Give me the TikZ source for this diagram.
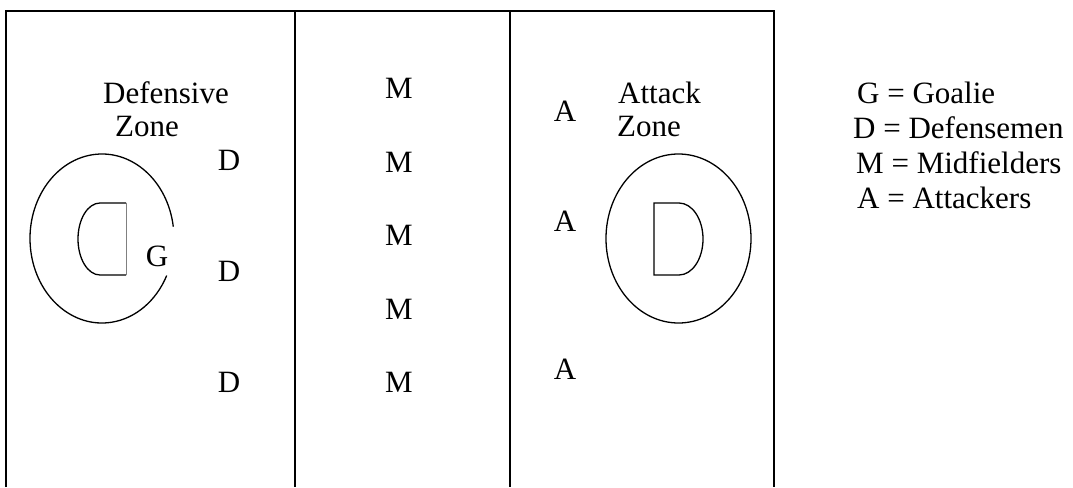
\documentclass[tikz,border=0pt]{standalone}
\usepackage{fontspec}
\setmainfont{Liberation Serif}
\usetikzlibrary{positioning}
\tikzstyle{player}    = [inner sep=0pt, anchor=base, font=\fontsize{31}{34}\selectfont]
\tikzstyle{zonetext}  = [inner sep=0pt, anchor=base west, font=\fontsize{31}{34}\selectfont]
\tikzstyle{fieldline} = [line width=1.8pt]
\tikzstyle{crease}    = [line width=1.3pt]

\begin{document}
\begin{tikzpicture}[x=1pt, y=-1pt]
  \useasboundingbox (0,0) rectangle (1073,487);

  %% Field outline and zone lines
  \coordinate (fbl) at (6,487);
  \coordinate (ftl) at (6,11);
  \coordinate (ftr) at (774,11);
  \coordinate (fbr) at (774,487);
  \coordinate (d1t) at (295,11);
  \coordinate (d1b) at (295,487);
  \coordinate (d2t) at (510,11);
  \coordinate (d2b) at (510,487);
  \draw[fieldline] (fbl) -- (ftl) -- (ftr) -- (fbr);
  \draw[fieldline] (d1t) -- (d1b);
  \draw[fieldline] (d2t) -- (d2b);

  %% Defensive crease (open on the right)
  \coordinate (lcrease) at (102,238.5);
  \draw[crease] (lcrease) ++(8:72pt and 84.5pt)
        arc[start angle=8, end angle=334, x radius=72pt, y radius=84.5pt];
  \coordinate (lgoal) at (100,203);
  \draw[crease] (126,203) -- (lgoal)
        arc[start angle=90, end angle=270, x radius=22pt, y radius=36pt]
        -- (126,275);
  \draw[gray, line width=0.8pt] (126,203) -- (126,275);

  %% Attack crease
  \coordinate (rcrease) at (678.5,238.5);
  \draw[crease] (rcrease) ellipse[x radius=72.5pt, y radius=84.5pt];
  \coordinate (rgoal) at (679,203);
  \draw[crease] (654,203) -- (rgoal)
        arc[start angle=90, end angle=-90, x radius=24pt, y radius=36pt]
        -- (654,275) -- cycle;

  %% Zone titles
  \node[zonetext] (defz1) at (103,103.3) {Defensive};
  \node[zonetext] (defz2) at (115,136.7) {Zone};
  \node[zonetext] (attz1) at (618,103.3) {Attack};
  \node[zonetext] (attz2) at (617,136.7) {Zone};

  %% Players
  \node[player] (g)  at (157,266) {G};
  \node[player] (d1) at (229,170) {D};
  \node[player] (d2) at (229,281) {D};
  \node[player] (d3) at (229,392) {D};
  \node[player] (m1) at (399,99)  {M};
  \node[player] (m2) at (399,172.3) {M};
  \node[player] (m3) at (399,245.7) {M};
  \node[player] (m4) at (399,319) {M};
  \node[player] (m5) at (399,392.3) {M};
  \node[player] (a1) at (565,121.7) {A};
  \node[player] (a2) at (565,231) {A};
  \node[player] (a3) at (565,379.3) {A};

  %% Legend
  \node[zonetext] (keyg) at (857,103)  {G = Goalie};
  \node[zonetext] (keyd) at (853,138)  {D = Defensemen};
  \node[zonetext] (keym) at (856,173)  {M = Midfielders};
  \node[zonetext] (keya) at (857,208)  {A = Attackers};

\end{tikzpicture}
\end{document}
